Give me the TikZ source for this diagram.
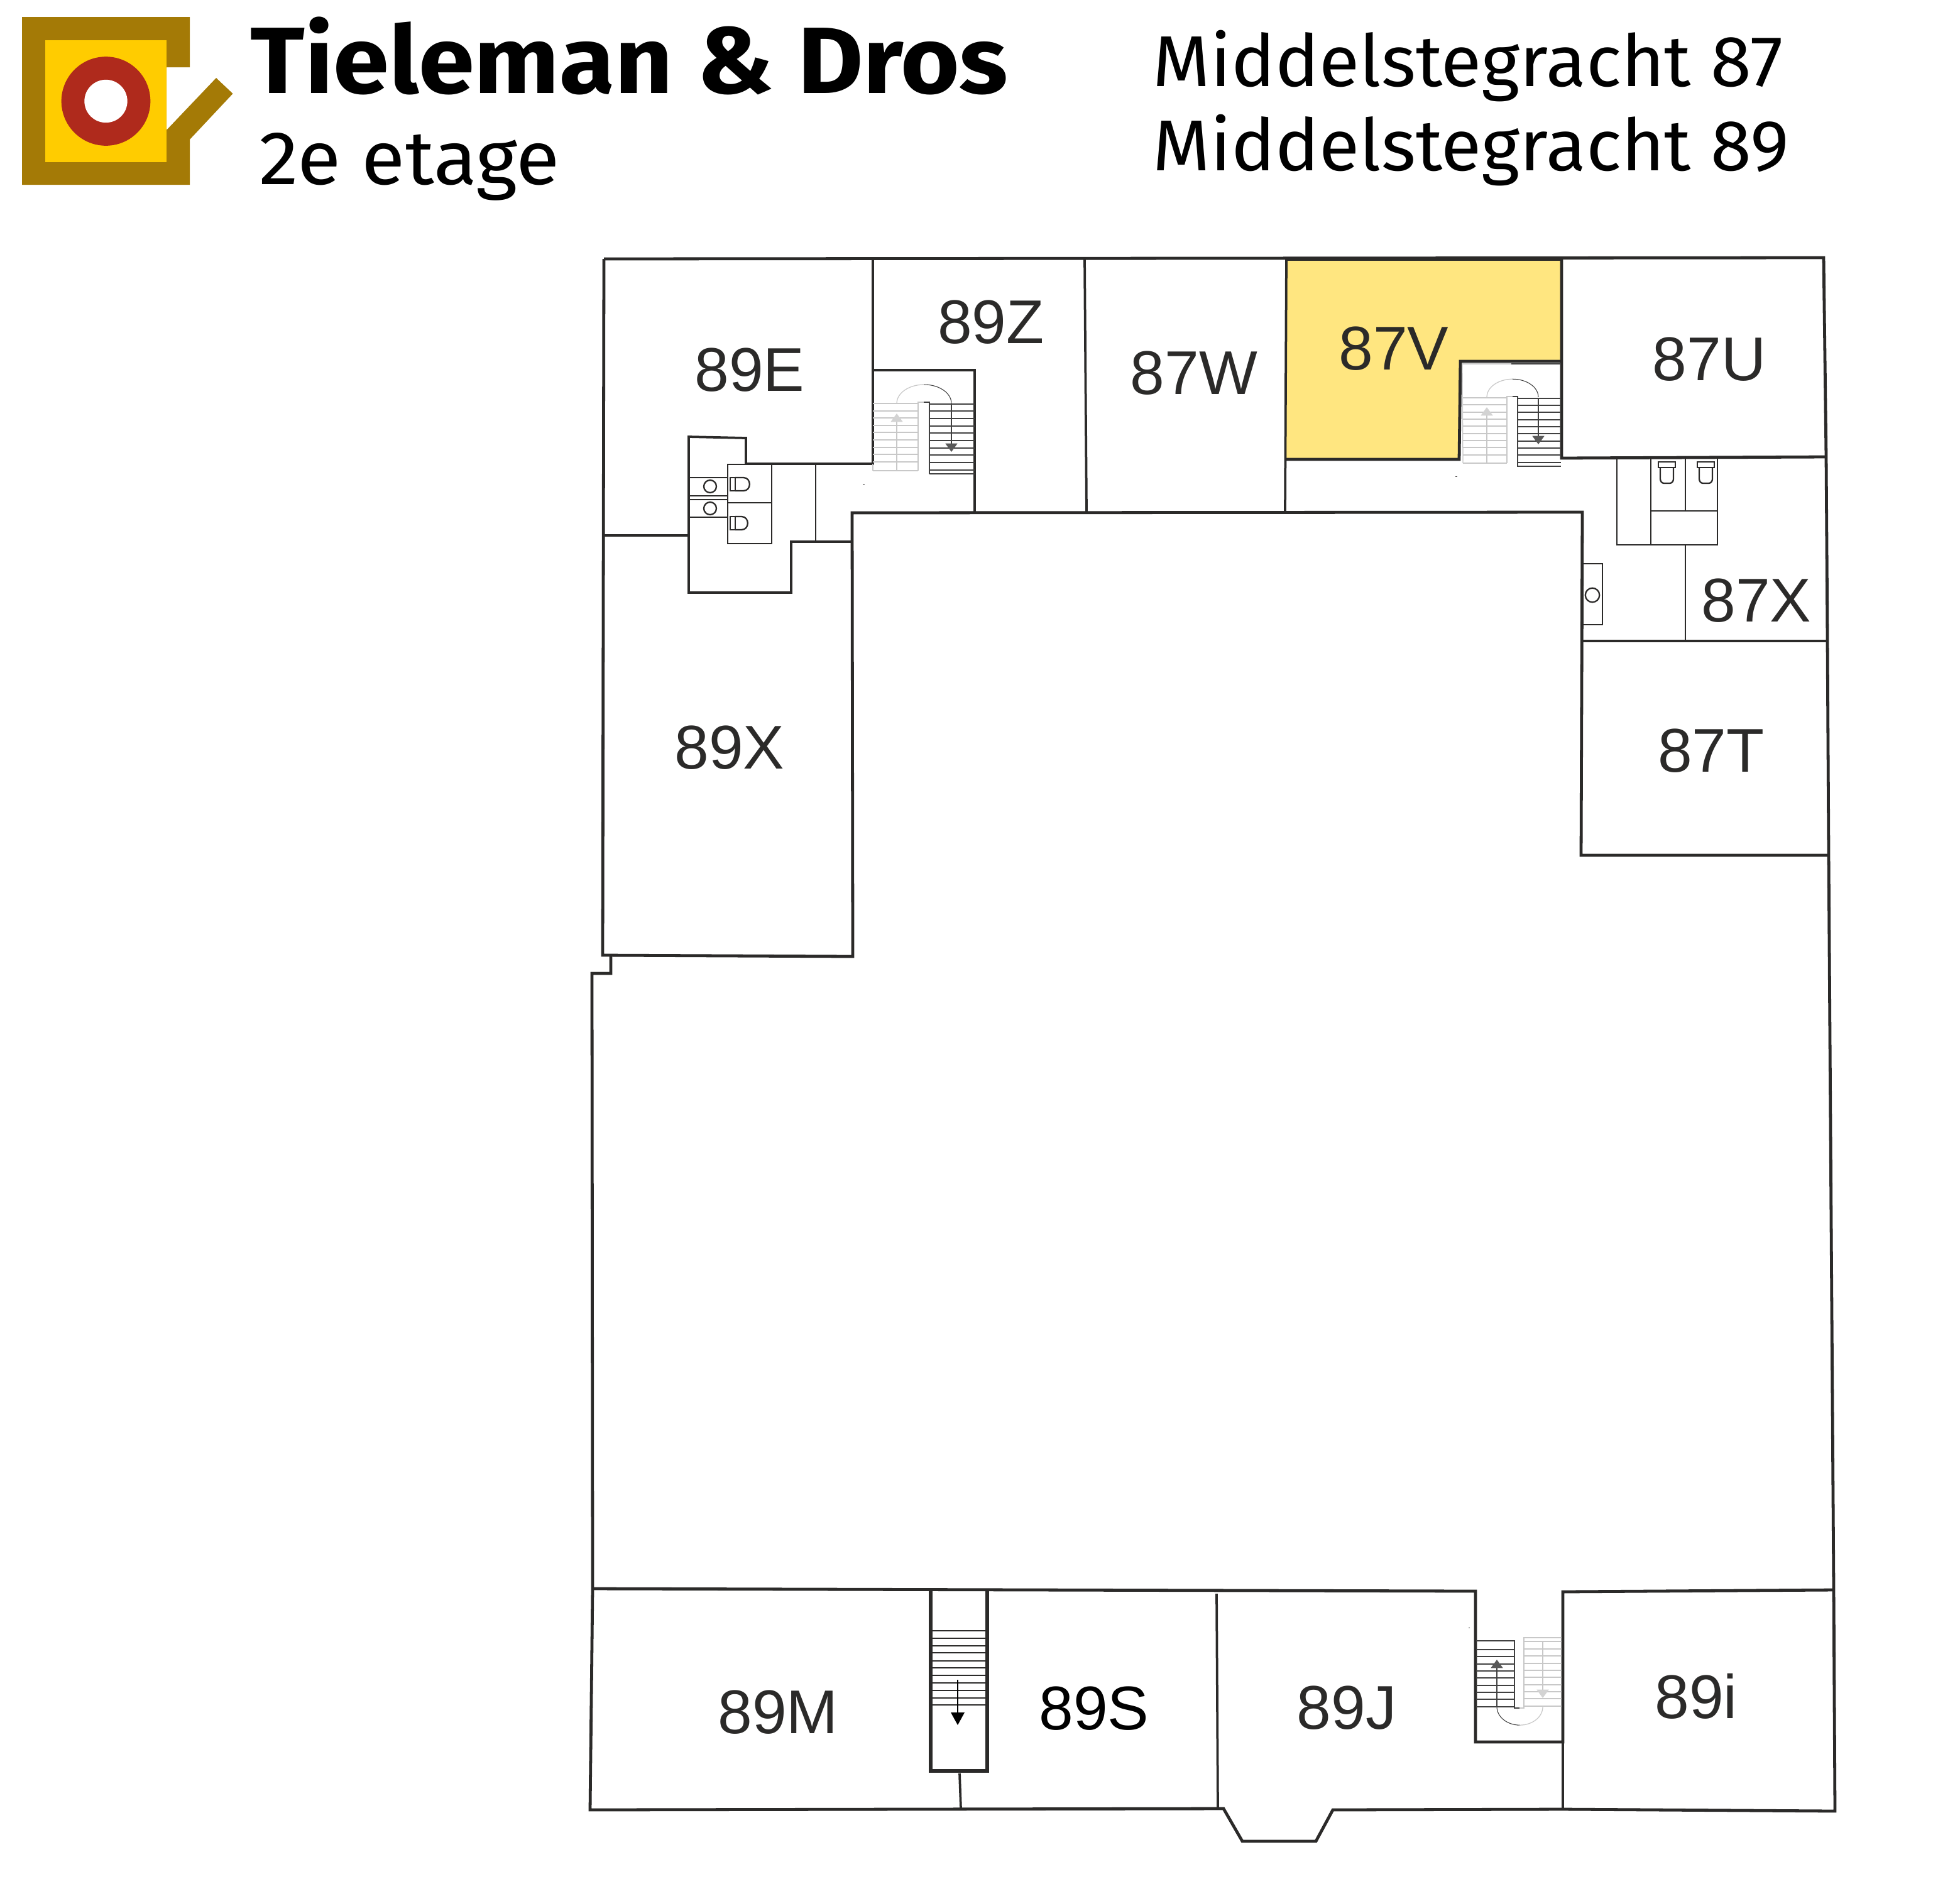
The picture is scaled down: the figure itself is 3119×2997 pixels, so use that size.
\documentclass[tikz,border=0pt]{standalone}
\usepackage{fontspec}
\setmainfont{Liberation Sans}
\newfontfamily\headfont{Fira Sans}
\usetikzlibrary{arrows.meta}
\definecolor{wallcol}{HTML}{2B2A29}
\definecolor{logobrown}{HTML}{A47A06}
\definecolor{logoyellow}{HTML}{FFCC00}
\definecolor{logored}{HTML}{AF2A1C}
\definecolor{roomyellow}{HTML}{FFE680}
\definecolor{stepgrey}{HTML}{C8C8C8}
\begin{document}
\begin{tikzpicture}[x=0.24pt,y=-0.24pt]
    \tikzset{wall/.style={draw=wallcol, line width=1.15pt, line join=miter},
      thinwall/.style={draw=wallcol, line width=0.9pt},
      blockwall/.style={draw=wallcol, line width=0.7pt},
      fixture/.style={draw=wallcol, line width=0.55pt},
      stepdark/.style={draw=black!75, line width=0.26pt},
      steplight/.style={draw=stepgrey, line width=0.3pt},
      tipdark/.style={-{Triangle[length=3.2pt,width=4.6pt,color=black!65]}},
      tiplight/.style={-{Triangle[length=3.2pt,width=4.6pt,color=stepgrey!80]}},
      room/.style={text=wallcol, inner sep=0pt, anchor=base, font=\fontsize{23.6}{28}\selectfont},
      heading/.style={text=black, inner sep=0pt, anchor=base west}}
    \useasboundingbox (0,0) rectangle (3119,2997);

    % logo
    \fill[logobrown] (35,27) -- (302,27) -- (302,107) -- (265,107) -- (265,207) -- (344,124)
      -- (370.5,149) -- (302,222) -- (302,294) -- (35,294) -- cycle;
    \fill[logoyellow] (72,64) rectangle (265,258);
    \fill[logored] (168.5,161) circle[radius=17pt];
    \fill[white] (168.5,161) circle[radius=8.2pt];

    \node[heading] (firm) at (398,148) {\scalebox{1.07}[1]{\headfont\fontsize{36}{42}\selectfont\bfseries Tieleman \& Dros}};
    \node[heading] (floor) at (412,293) {\scalebox{1.05}[1]{\headfont\fontsize{29}{34}\selectfont 2e etage}};
    \node[heading] (addrA) at (1834,137) {\scalebox{1.025}[1]{\headfont\fontsize{27.5}{32}\selectfont Middelstegracht 87}};
    \node[heading] (addrB) at (1834,271) {\scalebox{1.025}[1]{\headfont\fontsize{27.5}{32}\selectfont Middelstegracht 89}};

    % let room
    \fill[roomyellow] (2047,413) -- (2485,413) -- (2485,575) -- (2324,575) -- (2322,731) -- (2047,731) -- cycle;

    % building outline
    \draw[wall] (961,412) -- (2902,410) -- (2906,728) -- (2908,1020) -- (2910,1361)
      -- (2918,2530) -- (2920,2882) -- (2487,2879) -- (2121,2880) -- (2094,2930) -- (1977,2930)
      -- (1947,2878) -- (939,2880) -- (943,2528) -- (942,1549) -- (972,1549) -- (972,1520);
    \draw[wall] (961,412) -- (959,1520) -- (1357,1522) -- (1356,816) -- (2518,815)
      -- (2516,1361) -- (2910,1361);

    % upper rooms
    \draw[wall] (1389,412) -- (1389,738) -- (1187,738);
    \draw[wall] (1389,589) -- (1551,589) -- (1551,816);
    \draw[thinwall] (1726,412) -- (1729,814);
    \draw[thinwall] (2047,412) -- (2045,815);
    \draw[wall] (2047,731) -- (2322,731) -- (2324,575) -- (2485,575);
    \draw[wall] (2485,412) -- (2485,729) -- (2906,727);
    \draw[thinwall] (2047,413) -- (2485,413);

    % toilets 89
    \draw[thinwall] (961,852) -- (1096,852);
    \draw[thinwall] (1187,738) -- (1187,697) -- (1096,695) -- (1096,943) -- (1259,943) -- (1259,862) -- (1356,862);
    \draw[blockwall] (1158,739) rectangle (1228,865);
    \draw[blockwall] (1158,800) -- (1228,800);
    \draw[blockwall] (1298,738) -- (1298,862);
    \foreach \y in {760,789,795,823}
      \draw[fixture] (1096,\y) -- (1158,\y);
    \draw[fixture] (1130,774) circle[radius=2.4pt];
    \draw[fixture] (1130,809) circle[radius=2.4pt];
    \draw[fixture] (1162,760) rectangle (1170,781);
    \draw[fixture] (1170,760) -- (1183,760) to[out=0,in=0,looseness=1.6] (1183,781) -- (1170,781);
    \draw[fixture] (1162,822) rectangle (1170,843);
    \draw[fixture] (1170,822) -- (1180,822) to[out=0,in=0,looseness=1.6] (1180,843) -- (1170,843);

    % toilets 87
    \draw[blockwall] (2573,729) rectangle (2627,867);
    \draw[blockwall] (2627,729) rectangle (2733,867);
    \draw[blockwall] (2627,813) -- (2733,813);
    \draw[blockwall] (2682,729) -- (2682,813);
    \draw[blockwall] (2682,867) -- (2682,1020);
    \draw[thinwall] (2518,1020) -- (2908,1020);
    \draw[fixture] (2518,897) rectangle (2550,994);
    \draw[fixture] (2534,947) circle[radius=2.7pt];
    \foreach \x in {2639,2701} {
      \draw[fixture] (\x,735) rectangle +(27,9);
      \draw[fixture] (\x+3,744) -- (\x+3,762) to[out=-90,in=180] (\x+9,769) -- (\x+18,769)
        to[out=0,in=-90] (\x+24,762) -- (\x+24,744);
    }

    % stairs 89Z
    \foreach \y in {642,654,665,677,688,700,712,723,735,749}
      \draw[steplight] (1389,\y) -- (1461,\y);
    \foreach \y in {643,654,666,678,689,701,713,724,736,748,754}
      \draw[stepdark] (1479,\y) -- (1551,\y);
    \draw[steplight] (1389,738) -- (1389,749);
    \draw[steplight] (1461,749) -- (1461,640) -- (1470,640);
    \draw[stepdark] (1470,640) -- (1479,640) -- (1479,754);
    \draw[steplight, tiplight] (1427,748) -- (1427,658);
    \draw[steplight] (1427,642) arc[start angle=180,end angle=90,x radius=10.4pt,y radius=7.2pt];
    \draw[stepdark] (1514,642) arc[start angle=0,end angle=90,x radius=10.4pt,y radius=7.2pt];
    \draw[stepdark, tipdark] (1514,642) -- (1514,719);

    % stairs 87V
    \draw[stepdark] (2405,579) -- (2484,579);
    \draw[steplight] (2327,579) -- (2405,579);
    \draw[steplight] (2327,579) -- (2328,737);
    \foreach \y in {633,644,656,667,678,690,701,712,724,737}
      \draw[steplight] (2328,\y) -- (2398,\y);
    \foreach \y in {634,645,656,668,679,690,702,713,724,736}
      \draw[stepdark] (2415,\y) -- (2484,\y);
    \draw[steplight] (2398,737) -- (2398,631) -- (2407,631);
    \draw[stepdark] (2407,631) -- (2415,631) -- (2415,742) -- (2484,742);
    \draw[steplight, tiplight] (2366,736) -- (2366,648);
    \draw[steplight] (2366,632) arc[start angle=180,end angle=90,x radius=9.8pt,y radius=6.9pt];
    \draw[stepdark] (2448,632) arc[start angle=0,end angle=90,x radius=9.8pt,y radius=6.9pt];
    \draw[stepdark, tipdark] (2448,634) -- (2448,707);

    % stairs 89M
    \draw[wall, line width=1.35pt] (1481,2530) -- (1481,2818) -- (1571,2818) -- (1571,2530);
    \foreach \y in {2595,2607,2619,2630,2643,2654,2666,2678,2690,2702,2713}
      \draw[fixture] (1481,\y) -- (1571,\y);
    \draw[draw=black, line width=0.32pt, -{Triangle[length=4.8pt,width=5.2pt]}] (1524,2673) -- (1524,2745);
    \draw[thinwall] (1527,2822) -- (1529,2878);

    % stairs 89J/89i
    \draw[thinwall] (1936,2536) -- (1938,2878);
    \draw[wall] (943,2528) -- (2348,2532) -- (2348,2772) -- (2487,2772) -- (2487,2533) -- (2918,2530);
    \draw[thinwall] (2487,2772) -- (2487,2879);
    \foreach \y in {2611,2625,2636,2648,2659,2670,2682,2693,2704,2716}
      \draw[stepdark] (2349,\y) -- (2410,\y);
    \foreach \y in {2612,2624,2635,2647,2658,2669,2681,2692,2703,2715}
      \draw[steplight] (2425,\y) -- (2485,\y);
    \draw[stepdark] (2349,2611) -- (2410,2611) -- (2410,2718) -- (2418,2718);
    \draw[steplight] (2418,2718) -- (2425,2718) -- (2425,2606) -- (2485,2606);
    \draw[stepdark] (2382,2716) arc[start angle=180,end angle=270,x radius=8.8pt,y radius=7pt];
    \draw[steplight] (2455,2716) arc[start angle=0,end angle=-90,x radius=8.8pt,y radius=7pt];
    \draw[stepdark, tipdark] (2382,2716) -- (2382,2641);
    \draw[steplight, tiplight] (2455,2612) -- (2455,2702);

    % specks
    \fill[wallcol] (1373,770.5) rectangle (1376,771.5);
    \fill[wallcol] (2316,757.5) rectangle (2319,758.5);
    \fill[wallcol] (2337,2589.5) rectangle (2339,2590.5);

    % labels
    \node[room] (r89E) at (1193,622) {89E};
    \node[room] (r89Z) at (1577,546) {89Z};
    \node[room] (r87W) at (1900,627) {87W};
    \node[room] (r87V) at (2218,588) {87V};
    \node[room] (r87U) at (2720,605) {87U};
    \node[room] (r87X) at (2795,989) {87X};
    \node[room] (r87T) at (2723,1228) {87T};
    \node[room] (r89X) at (1161,1223) {89X};
    \node[room] (r89M) at (1238,2758) {89M};
    \node[room, text=black] (r89S) at (1741,2752) {89S};
    \node[room] (r89J) at (2143,2751) {89J};
    \node[room] (r89i) at (2699,2734) {89i};
\end{tikzpicture}
\end{document}
